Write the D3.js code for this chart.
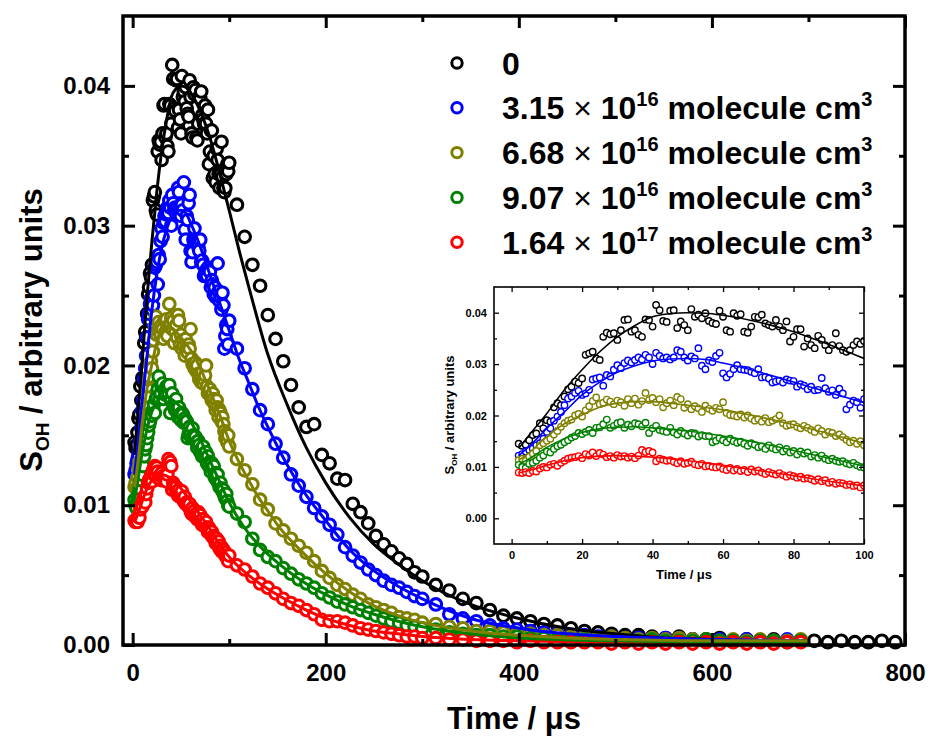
<!DOCTYPE html>
<html>
<head>
<meta charset="utf-8">
<script src="https://cdn.jsdelivr.net/npm/d3@7"></script>
<style>
  body { margin: 0; background: #fff; }
  text { font-family: Arial, "Liberation Sans", sans-serif; font-weight: bold; fill: #000; }
</style>
</head>
<body>
<svg id="chart" width="931" height="742"></svg>
<script>
// ---- series names and colours ----
const seriesNames = ["0", "3.15e16", "6.68e16", "9.07e16", "1.64e17"];
const seriesColors = ["#000000", "#0000ff", "#808000", "#008000", "#ff0000"];
const concMantissa = ["", "3.15", "6.68", "9.07", "1.64"];
const concExponent = ["", "16", "16", "16", "17"];

// ---- time grids (µs) ----
const earlyTimes = d3.range(2, 101, 1);          // 1 µs sampling, 2 … 100 µs
const tailTimes = [108,116,124,132,140,148,156,164,172,180,188,196,204,212,220,228,236,244,252,260,268,276,284,292,300,
  314,328,342,356,370,384,398,412,426,440,454,468,482,496,510,524,538,552,566,580,594,608,622,636,650,664,678,692,
  706,720,734,748,762,776,790];

// ---- measured S_OH, 2–100 µs ----
const earlyBlack = [.0145,.0141,.0143,.0152,.0162,.0165,.0185,.0175,.0191,.0188,
  .0216,.0224,.0220,.0237,.0251,.0256,.0266,.0263,.0272,.0318,
  .0321,.0324,.0311,.0308,.0353,.0361,.0358,.0360,.0347,.0366,
  .0386,.0387,.0363,.0366,.0357,.0353,.0387,.0386,.0373,.0415,
  .0405,.0384,.0382,.0404,.0405,.0370,.0383,.0376,.0366,.0407,
  .0392,.0396,.0389,.0399,.0384,.0380,.0378,.0404,.0392,.0366,
  .0363,.0399,.0394,.0397,.0363,.0361,.0373,.0392,.0391,.0396,
  .0379,.0376,.0373,.0386,.0373,.0366,.0383,.0344,.0353,.0368,
  .0368,.0334,.0350,.0337,.0331,.0355,.0347,.0337,.0327,.0337,
  .0360,.0335,.0327,.0324,.0327,.0337,.0344,.0339,.0345];
const earlyBlue = [.0122,.0125,.0130,.0133,.0136,.0142,.0146,.0155,.0168,.0175,
  .0190,.0198,.0207,.0220,.0233,.0237,.0244,.0248,.0240,.0243,
  .0250,.0270,.0272,.0274,.0258,.0279,.0276,.0289,.0298,.0292,
  .0302,.0307,.0303,.0308,.0313,.0309,.0318,.0313,.0300,.0322,
  .0316,.0311,.0313,.0309,.0313,.0327,.0324,.0313,.0307,.0315,
  .0311,.0331,.0297,.0290,.0307,.0304,.0316,.0322,.0282,.0274,
  .0281,.0290,.0298,.0290,.0289,.0288,.0285,.0282,.0290,.0274,
  .0275,.0272,.0264,.0266,.0268,.0264,.0270,.0268,.0267,.0256,
  .0261,.0258,.0251,.0256,.0249,.0250,.0273,.0253,.0246,.0249,
  .0240,.0252,.0243,.0212,.0221,.0229,.0226,.0215,.0232];
const earlyOlive = [.0113,.0116,.0112,.0120,.0126,.0131,.0142,.0146,.0151,.0155,
  .0163,.0170,.0178,.0185,.0190,.0192,.0200,.0203,.0198,.0210,
  .0218,.0228,.0235,.0222,.0225,.0231,.0227,.0222,.0229,.0226,
  .0219,.0232,.0224,.0233,.0221,.0228,.0244,.0230,.0234,.0226,
  .0232,.0216,.0224,.0229,.0220,.0236,.0232,.0215,.0222,.0212,
  .0218,.0214,.0207,.0219,.0213,.0209,.0215,.0212,.0226,.0205,
  .0201,.0200,.0198,.0202,.0196,.0200,.0194,.0190,.0193,.0188,
  .0195,.0187,.0190,.0193,.0200,.0185,.0180,.0182,.0183,.0178,
  .0175,.0180,.0176,.0172,.0168,.0175,.0170,.0163,.0168,.0166,
  .0160,.0163,.0158,.0153,.0148,.0151,.0145,.0150,.0142];
const earlyGreen = [.0104,.0100,.0098,.0106,.0108,.0112,.0118,.0122,.0130,.0128,
  .0135,.0140,.0143,.0148,.0152,.0157,.0160,.0166,.0164,.0168,
  .0172,.0166,.0176,.0177,.0183,.0192,.0176,.0180,.0185,.0187,
  .0176,.0182,.0179,.0185,.0183,.0179,.0186,.0166,.0175,.0180,
  .0172,.0170,.0168,.0176,.0167,.0163,.0170,.0165,.0161,.0166,
  .0165,.0159,.0162,.0160,.0160,.0148,.0151,.0156,.0152,.0148,
  .0155,.0150,.0147,.0149,.0145,.0141,.0146,.0143,.0138,.0140,
  .0135,.0142,.0137,.0134,.0138,.0130,.0135,.0128,.0131,.0124,
  .0130,.0126,.0128,.0120,.0123,.0118,.0122,.0116,.0113,.0116,
  .0112,.0110,.0111,.0107,.0105,.0108,.0103,.0100,.0099];
const earlyRed = [.0089,.0088,.0090,.0088,.0092,.0091,.0097,.0100,.0099,.0104,
  .0106,.0102,.0108,.0112,.0116,.0118,.0119,.0121,.0117,.0125,
  .0122,.0128,.0121,.0127,.0124,.0119,.0121,.0118,.0123,.0120,
  .0121,.0118,.0120,.0117,.0122,.0133,.0129,.0131,.0128,.0111,
  .0116,.0114,.0112,.0113,.0110,.0107,.0111,.0106,.0108,.0110,
  .0105,.0103,.0106,.0101,.0102,.0100,.0099,.0101,.0096,.0094,
  .0098,.0093,.0096,.0092,.0094,.0090,.0095,.0091,.0093,.0089,
  .0086,.0090,.0087,.0085,.0088,.0084,.0081,.0084,.0082,.0079,
  .0081,.0077,.0078,.0076,.0073,.0076,.0072,.0074,.0069,.0071,
  .0067,.0069,.0068,.0065,.0066,.0063,.0064,.0060,.0064];

// ---- measured S_OH, decay tail (paired with tailTimes) ----
const tailBlack = [.0315,.0292,.0272,.0257,.0236,.0219,.0203,.0186,.0170,.0156,.0158,.0136,.0130,.0119,.0118,.0101,.0095,.0087,.0078,.0072,.0067,.0062,.0058,.0052,.0049,
  .0043,.0039,.0033,.0030,.0025,.0021,.0019,.0017,.0015,.0014,.0012,.0010,.0009,.0008,.0007,.0007,.0006,.0005,.0006,.0004,.0004,.0005,.0003,.0004,.0003,.0004,.0003,.0003,
  .0003,.0002,.0003,.0002,.0002,.0003,.0002];
const tailBlue = [.0212,.0198,.0183,.0168,.0158,.0144,.0134,.0122,.0114,.0106,.0098,.0092,.0086,.0079,.0070,.0064,.0059,.0054,.0050,.0046,.0043,.0041,.0038,.0035,.0033,
  .0029,.0022,.0019,.0017,.0014,.0012,.0011,.0010,.0009,.0008,.0007,.0007,.0006,.0006,.0005,.0005,.0004,.0005,.0004,.0004,.0003,.0004,.0003,.0004,.0003,.0003,.0004,.0003];
const tailOlive = [.0133,.0125,.0115,.0104,.0097,.0087,.0082,.0076,.0071,.0066,.0060,.0053,.0048,.0043,.0040,.0036,.0033,.0029,.0027,.0025,.0023,.0020,.0019,.0018,.0016,
  .0015,.0013,.0012,.0010,.0010,.0009,.0008,.0008,.0007,.0007,.0006,.0006,.0005,.0006,.0005,.0004,.0005,.0004,.0005,.0004,.0004,.0003,.0004,.0003,.0004,.0003,.0003,.0004];
const tailGreen = [.0094,.0088,.0076,.0068,.0063,.0060,.0055,.0051,.0047,.0044,.0041,.0037,.0034,.0031,.0029,.0027,.0025,.0023,.0021,.0019,.0017,.0016,.0014,.0013,.0012,
  .0011,.0009,.0008,.0007,.0007,.0006,.0006,.0005,.0005,.0004,.0004,.0004,.0003,.0004,.0003,.0003,.0004,.0003,.0003,.0003,.0004,.0003,.0003,.0002,.0003,.0003,.0002,.0003];
const tailRed = [.0057,.0054,.0049,.0044,.0041,.0037,.0033,.0030,.0028,.0025,.0022,.0018,.0017,.0017,.0016,.0014,.0012,.0011,.0010,.0009,.0008,.0007,.0006,.0006,.0005,
  .0005,.0004,.0004,.0003,.0003,.0003,.0002,.0003,.0002,.0002,.0002,.0002,.0002,.0001,.0002,.0001,.0002,.0001,.0002,.0001,.0002,.0001,.0002,.0001,.0002,.0001,.0002,.0002];

// ---- fitted curves [time µs, S_OH] ----
const fitBlack = [[2,.0136],[5,.0162],[10,.0204],[15,.0250],[20,.0289],[25,.0324],[30,.0353],[35,.0375],[40,.0392],[45,.0398],[50,.0400],[55,.0399],[60,.0395],[70,.0382],[80,.0363],[90,.0338],[100,.0311],[110,.0283],[120,.0257],[140,.0208],[160,.0172],[180,.0141],[200,.0116],[225,.0091],[250,.0072],[275,.0058],[300,.0046],[350,.0029],[400,.0019],[450,.0012],[500,.0008],[550,.0005],[600,.0004],[650,.0003],[700,.0003]];
const fitBlue = [[2,.0122],[5,.0140],[10,.0175],[15,.0207],[20,.0240],[25,.0265],[30,.0284],[35,.0297],[40,.0306],[45,.0310],[50,.0311],[55,.0309],[60,.0302],[70,.0285],[80,.0265],[90,.0245],[100,.0225],[110,.0205],[120,.0188],[130,.0171],[140,.0156],[150,.0142],[160,.0129],[175,.0112],[200,.0089],[225,.0068],[250,.0053],[275,.0042],[300,.0033],[350,.0019],[400,.0012],[450,.0008],[500,.0006],[600,.0004],[700,.0003]];
const fitOlive = [[2,.0113],[5,.0128],[10,.0159],[15,.0184],[20,.0201],[25,.0216],[30,.0224],[35,.0227],[40,.0227],[45,.0224],[50,.0220],[60,.0211],[70,.0198],[80,.0182],[90,.0165],[100,.0146],[110,.0131],[120,.0118],[130,.0106],[140,.0096],[150,.0086],[175,.0067],[200,.0051],[225,.0038],[250,.0028],[275,.0021],[300,.0016],[350,.0010],[400,.0007],[450,.0005],[500,.0004],[600,.0003],[700,.0003]];
const fitGreen = [[2,.0104],[5,.0116],[10,.0138],[15,.0155],[20,.0167],[25,.0174],[30,.0177],[35,.0178],[40,.0176],[50,.0170],[60,.0160],[70,.0147],[80,.0132],[90,.0117],[100,.0102],[110,.0090],[120,.0080],[130,.0072],[140,.0065],[150,.0059],[175,.0046],[200,.0036],[225,.0028],[250,.0022],[275,.0017],[300,.0013],[350,.0008],[400,.0005],[500,.0003],[600,.0002],[700,.0002]];
const fitRed = [[2,.0088],[5,.0093],[10,.0103],[15,.0112],[20,.0118],[25,.0121],[30,.0122],[35,.0121],[40,.0119],[50,.0112],[60,.0103],[70,.0093],[80,.0083],[90,.0072],[100,.0063],[110,.0056],[120,.0050],[140,.0040],[160,.0032],[180,.0025],[200,.0019],[225,.0014],[250,.0010],[275,.0008],[300,.0006],[350,.0004],[400,.0003],[500,.0002],[600,.0002],[700,.0002]];

// ---- axis ticks ----
const xMajor = [0, 200, 400, 600, 800], xMinor = [100, 300, 500, 700];
const yMajor = [0, 0.01, 0.02, 0.03, 0.04], yMinor = [0.005, 0.015, 0.025, 0.035];
const ixMajor = [0, 20, 40, 60, 80, 100], ixMinor = [10, 30, 50, 70, 90];
const iyMajor = [0, 0.01, 0.02, 0.03, 0.04], iyMinor = [0.005, 0.015, 0.025, 0.035];

// assemble per-series records
const early = [earlyBlack, earlyBlue, earlyOlive, earlyGreen, earlyRed];
const tails = [tailBlack, tailBlue, tailOlive, tailGreen, tailRed];
const fits = [fitBlack, fitBlue, fitOlive, fitGreen, fitRed];
const series = seriesNames.map((name, i) => ({
  name, color: seriesColors[i],
  early: early[i].map((v, j) => [earlyTimes[j], v]),
  tail: tails[i].map((v, j) => [tailTimes[j], v]),
  fit: fits[i]
}));

const svg = d3.select("#chart");

// ================= main panel =================
const M = { left: 123, right: 905, top: 16, bottom: 645 };
const x = d3.scaleLinear([-10, 800], [M.left, M.right]);
const y = d3.scaleLinear([0, 0.045], [M.bottom, M.top]);

const main = svg.append("g");

// scatter (white-filled open circles)
series.forEach(s => {
  main.append("g").selectAll("circle")
    .data(s.early.concat(s.tail))
    .join("circle")
    .attr("cx", d => x(d[0])).attr("cy", d => y(d[1]))
    .attr("r", 5.8)
    .attr("fill", "#fff").attr("stroke", s.color).attr("stroke-width", 3.1);
});

// fitted curves
const line = d3.line().x(d => x(d[0])).y(d => y(d[1])).curve(d3.curveMonotoneX);
[0, 1, 4, 3, 2].forEach(i => {
  main.append("path").datum(series[i].fit)
    .attr("d", line).attr("fill", "none")
    .attr("stroke", series[i].color).attr("stroke-width", 3);
});

// axes with inward ticks on all four sides
function styleAxis(g, w) {
  g.select(".domain").remove();
  g.selectAll(".tick line").attr("stroke", "#000").attr("stroke-width", w);
}
const fmtX = d3.format("d"), fmtY = d3.format(".2f");
main.append("g").attr("transform", `translate(0,${M.bottom})`)
  .call(d3.axisBottom(x).tickValues(xMajor).tickSize(-12).tickPadding(19).tickFormat(fmtX))
  .call(g => styleAxis(g, 3))
  .call(g => g.selectAll("text").attr("font-size", 24).attr("font-family", null));
main.append("g").attr("transform", `translate(0,${M.bottom})`)
  .call(d3.axisBottom(x).tickValues(xMinor).tickSize(-6).tickFormat(""))
  .call(g => styleAxis(g, 3));
main.append("g").attr("transform", `translate(0,${M.top})`)
  .call(d3.axisTop(x).tickValues(xMajor).tickSize(-12).tickFormat(""))
  .call(g => styleAxis(g, 3));
main.append("g").attr("transform", `translate(0,${M.top})`)
  .call(d3.axisTop(x).tickValues(xMinor).tickSize(-6).tickFormat(""))
  .call(g => styleAxis(g, 3));
main.append("g").attr("transform", `translate(${M.left},0)`)
  .call(d3.axisLeft(y).tickValues(yMajor).tickSize(-12).tickPadding(13).tickFormat(fmtY))
  .call(g => styleAxis(g, 3))
  .call(g => g.selectAll("text").attr("font-size", 24).attr("font-family", null));
main.append("g").attr("transform", `translate(${M.left},0)`)
  .call(d3.axisLeft(y).tickValues(yMinor).tickSize(-6).tickFormat(""))
  .call(g => styleAxis(g, 3));
main.append("g").attr("transform", `translate(${M.right},0)`)
  .call(d3.axisRight(y).tickValues(yMajor).tickSize(-12).tickFormat(""))
  .call(g => styleAxis(g, 3));
main.append("g").attr("transform", `translate(${M.right},0)`)
  .call(d3.axisRight(y).tickValues(yMinor).tickSize(-6).tickFormat(""))
  .call(g => styleAxis(g, 3));

main.append("rect")
  .attr("x", M.left).attr("y", M.top)
  .attr("width", M.right - M.left).attr("height", M.bottom - M.top)
  .attr("fill", "none").attr("stroke", "#000").attr("stroke-width", 3.5);

// axis titles
main.append("text")
  .attr("x", 514).attr("y", 729)
  .attr("text-anchor", "middle").attr("font-size", 31)
  .text("Time / μs");

const yTitle = main.append("text")
  .attr("transform", "translate(42,330) rotate(-90)")
  .attr("text-anchor", "middle").attr("font-size", 31);
yTitle.append("tspan").text("S");
yTitle.append("tspan").attr("font-size", 19).attr("dy", 7).text("OH");
yTitle.append("tspan").attr("dy", -7).text(" / arbitrary units");

// legend
const legend = main.append("g");
series.forEach((s, i) => {
  const ry = 63 + i * 44.8;
  legend.append("circle").attr("cx", 457).attr("cy", ry).attr("r", 5.2)
    .attr("fill", "#fff").attr("stroke", s.color).attr("stroke-width", 3);
  const t = legend.append("text").attr("x", 502).attr("y", ry + 11.5).attr("font-size", 32);
  if (i === 0) {
    t.text(s.name);
  } else {
    t.append("tspan").text(concMantissa[i] + " ");
    t.append("tspan").attr("font-weight", "normal").text("×");
    t.append("tspan").text(" 10");
    t.append("tspan").attr("font-size", 20).attr("dy", -13).text(concExponent[i]);
    t.append("tspan").attr("dy", 13).text(" molecule cm");
    t.append("tspan").attr("font-size", 20).attr("dy", -13).text("3");
  }
});

// ================= inset panel =================
const I = { left: 494, right: 864, top: 287, bottom: 544 };
const ix = d3.scaleLinear([-5, 100], [I.left, I.right]);
const iy = d3.scaleLinear([-0.005, 0.045], [I.bottom, I.top]);

const inset = svg.append("g");
inset.append("rect")
  .attr("x", I.left).attr("y", I.top)
  .attr("width", I.right - I.left).attr("height", I.bottom - I.top)
  .attr("fill", "#fff");
svg.append("clipPath").attr("id", "insetClip")
  .append("rect").attr("x", I.left).attr("y", I.top)
  .attr("width", I.right - I.left).attr("height", I.bottom - I.top);

const iplot = inset.append("g").attr("clip-path", "url(#insetClip)");
series.forEach(s => {
  iplot.append("g").selectAll("circle")
    .data(s.early)
    .join("circle")
    .attr("cx", d => ix(d[0])).attr("cy", d => iy(d[1]))
    .attr("r", 3.2)
    .attr("fill", "#fff").attr("stroke", s.color).attr("stroke-width", 1.4);
});
const iline = d3.line().x(d => ix(d[0])).y(d => iy(d[1])).curve(d3.curveMonotoneX);
series.forEach(s => {
  iplot.append("path").datum(s.fit.filter(d => d[0] <= 110))
    .attr("d", iline).attr("fill", "none")
    .attr("stroke", s.color).attr("stroke-width", 1.6);
});

inset.append("g").attr("transform", `translate(0,${I.bottom})`)
  .call(d3.axisBottom(ix).tickValues(ixMajor).tickSize(-5).tickPadding(7).tickFormat(fmtX))
  .call(g => styleAxis(g, 1.3))
  .call(g => g.selectAll("text").attr("font-size", 11).attr("font-family", null));
inset.append("g").attr("transform", `translate(0,${I.bottom})`)
  .call(d3.axisBottom(ix).tickValues(ixMinor).tickSize(-3).tickFormat(""))
  .call(g => styleAxis(g, 1.3));
inset.append("g").attr("transform", `translate(0,${I.top})`)
  .call(d3.axisTop(ix).tickValues(ixMajor).tickSize(-5).tickFormat(""))
  .call(g => styleAxis(g, 1.3));
inset.append("g").attr("transform", `translate(0,${I.top})`)
  .call(d3.axisTop(ix).tickValues(ixMinor).tickSize(-3).tickFormat(""))
  .call(g => styleAxis(g, 1.3));
inset.append("g").attr("transform", `translate(${I.left},0)`)
  .call(d3.axisLeft(iy).tickValues(iyMajor).tickSize(-5).tickPadding(7).tickFormat(fmtY))
  .call(g => styleAxis(g, 1.3))
  .call(g => g.selectAll("text").attr("font-size", 11).attr("font-family", null));
inset.append("g").attr("transform", `translate(${I.left},0)`)
  .call(d3.axisLeft(iy).tickValues(iyMinor).tickSize(-3).tickFormat(""))
  .call(g => styleAxis(g, 1.3));
inset.append("g").attr("transform", `translate(${I.right},0)`)
  .call(d3.axisRight(iy).tickValues(iyMajor).tickSize(-5).tickFormat(""))
  .call(g => styleAxis(g, 1.3));
inset.append("g").attr("transform", `translate(${I.right},0)`)
  .call(d3.axisRight(iy).tickValues(iyMinor).tickSize(-3).tickFormat(""))
  .call(g => styleAxis(g, 1.3));

inset.append("rect")
  .attr("x", I.left).attr("y", I.top)
  .attr("width", I.right - I.left).attr("height", I.bottom - I.top)
  .attr("fill", "none").attr("stroke", "#000").attr("stroke-width", 1.6);

inset.append("text")
  .attr("x", (I.left + I.right) / 2 + 5).attr("y", 579)
  .attr("text-anchor", "middle").attr("font-size", 13)
  .text("Time / μs");
const iyTitle = inset.append("text")
  .attr("transform", "translate(454,415) rotate(-90)")
  .attr("text-anchor", "middle").attr("font-size", 13);
iyTitle.append("tspan").text("S");
iyTitle.append("tspan").attr("font-size", 8).attr("dy", 3).text("OH");
iyTitle.append("tspan").attr("dy", -3).text(" / arbitrary units");
</script>
</body>
</html>
